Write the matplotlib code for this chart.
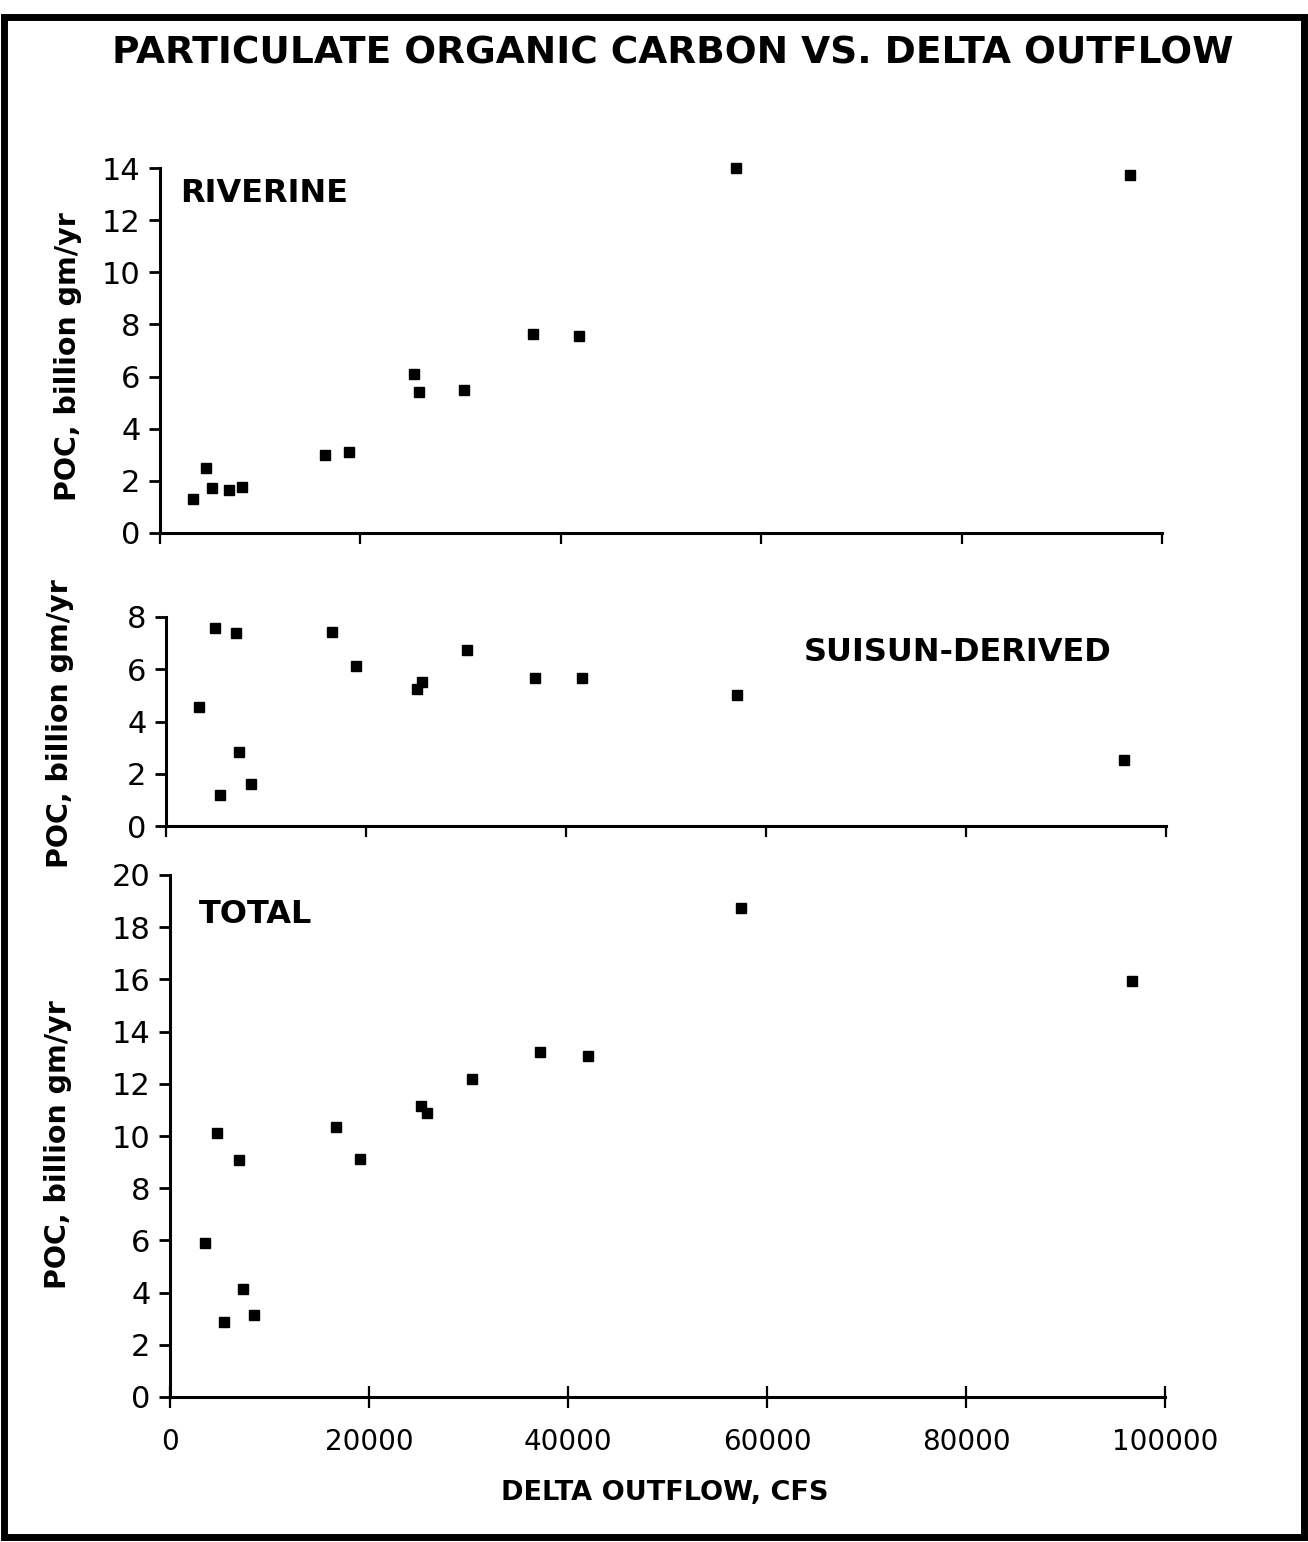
import numpy as np
import matplotlib
matplotlib.use("Agg")
import matplotlib.pyplot as plt
from matplotlib.patches import Rectangle

# delta outflow (cfs) and POC (billion gm/yr)
riv_x = [3300, 4600, 5200, 6900, 8200, 16500, 18900, 25300, 25800, 30300,
         37200, 41800, 57500, 96800]
riv_y = [1.30, 2.49, 1.73, 1.65, 1.76, 2.99, 3.10, 6.10, 5.40, 5.50,
         7.63, 7.56, 14.0, 13.73]

sui_x = [3300, 4850, 7000, 5400, 7300, 8500, 16600, 19000, 25100, 25600,
         30100, 36900, 41600, 57100, 95800]
sui_y = [4.56, 7.59, 7.39, 1.19, 2.84, 1.61, 7.43, 6.13, 5.25, 5.52,
         6.74, 5.67, 5.67, 5.02, 2.53]

tot_x = [3500, 4700, 5400, 6900, 7300, 8400, 16700, 19100, 25200, 25800,
         30400, 37200, 42000, 57400, 96700]
tot_y = [5.90, 10.11, 2.87, 9.08, 4.14, 3.14, 10.34, 9.12, 11.15, 10.88,
         12.18, 13.22, 13.07, 18.74, 15.94]

x_ticks = [0, 20000, 40000, 60000, 80000, 100000]

W, H = 1308, 1542
fig = plt.figure(figsize=(W/100, H/100), dpi=100)

def px_axes(left, right, top, bottom):
    return fig.add_axes([left/W, 1 - bottom/H, (right-left)/W, (bottom-top)/H])

def style(ax, ymax, ystep, show_xlabels):
    ax.set_xlim(0, 100000)
    ax.set_ylim(0, ymax)
    ax.set_xticks(x_ticks)
    ax.set_yticks(np.arange(0, ymax + 0.1, ystep))
    for s in ['top', 'right']:
        ax.spines[s].set_visible(False)
    for s in ['left', 'bottom']:
        ax.spines[s].set_linewidth(2.2)
    ax.tick_params(axis='y', direction='out', length=8, width=2, labelsize=22, pad=6)
    if show_xlabels:
        ax.tick_params(axis='x', direction='inout', length=16, width=1.6,
                       labelsize=20, pad=14)
    else:
        ax.tick_params(axis='x', direction='out', length=8, width=1.6,
                       labelbottom=False)
    ax.patch.set_alpha(0)

ax1 = px_axes(160, 1162, 168, 533)
ax1.plot(riv_x, riv_y, 's', color='black', markersize=7.5, clip_on=False)
style(ax1, 14, 2, False)
ax1.text(0.02, 0.93, 'RIVERINE', transform=ax1.transAxes, fontsize=23,
         fontweight='bold', ha='left', va='center')

ax2 = px_axes(166, 1166, 617, 826)
ax2.plot(sui_x, sui_y, 's', color='black', markersize=7.5, clip_on=False)
style(ax2, 8, 2, False)
ax2.text(0.946, 0.83, 'SUISUN-DERIVED', transform=ax2.transAxes, fontsize=23,
         fontweight='bold', ha='right', va='center')

ax3 = px_axes(170, 1165, 875, 1397)
ax3.plot(tot_x, tot_y, 's', color='black', markersize=7.5, clip_on=False)
style(ax3, 20, 2, True)
ax3.text(0.029, 0.925, 'TOTAL', transform=ax3.transAxes, fontsize=23,
         fontweight='bold', ha='left', va='center')

ylab = 'POC, billion gm/yr'
fig.text(68/W, 1 - 357/H, ylab, rotation=90, ha='center', va='center',
         fontsize=20.5, fontweight='bold')
fig.text(60/W, 1 - 724/H, ylab, rotation=90, ha='center', va='center',
         fontsize=20.5, fontweight='bold')
fig.text(58/W, 1 - 1145/H, ylab, rotation=90, ha='center', va='center',
         fontsize=20.5, fontweight='bold')

fig.text(665/W, 1 - 1493/H, 'DELTA OUTFLOW, CFS', ha='center', va='center',
         fontsize=19.5, fontweight='bold')

fig.text(673/W, 1 - 54/H, 'PARTICULATE ORGANIC CARBON VS. DELTA OUTFLOW',
         ha='center', va='center', fontsize=27, fontweight='bold')

# scanned page border
fig.add_artist(Rectangle((4/W, 5/H), (W-8)/W, (H-22)/H, transform=fig.transFigure,
                         fill=False, edgecolor='black', linewidth=5))

fig.savefig('out.png', dpi=100)
